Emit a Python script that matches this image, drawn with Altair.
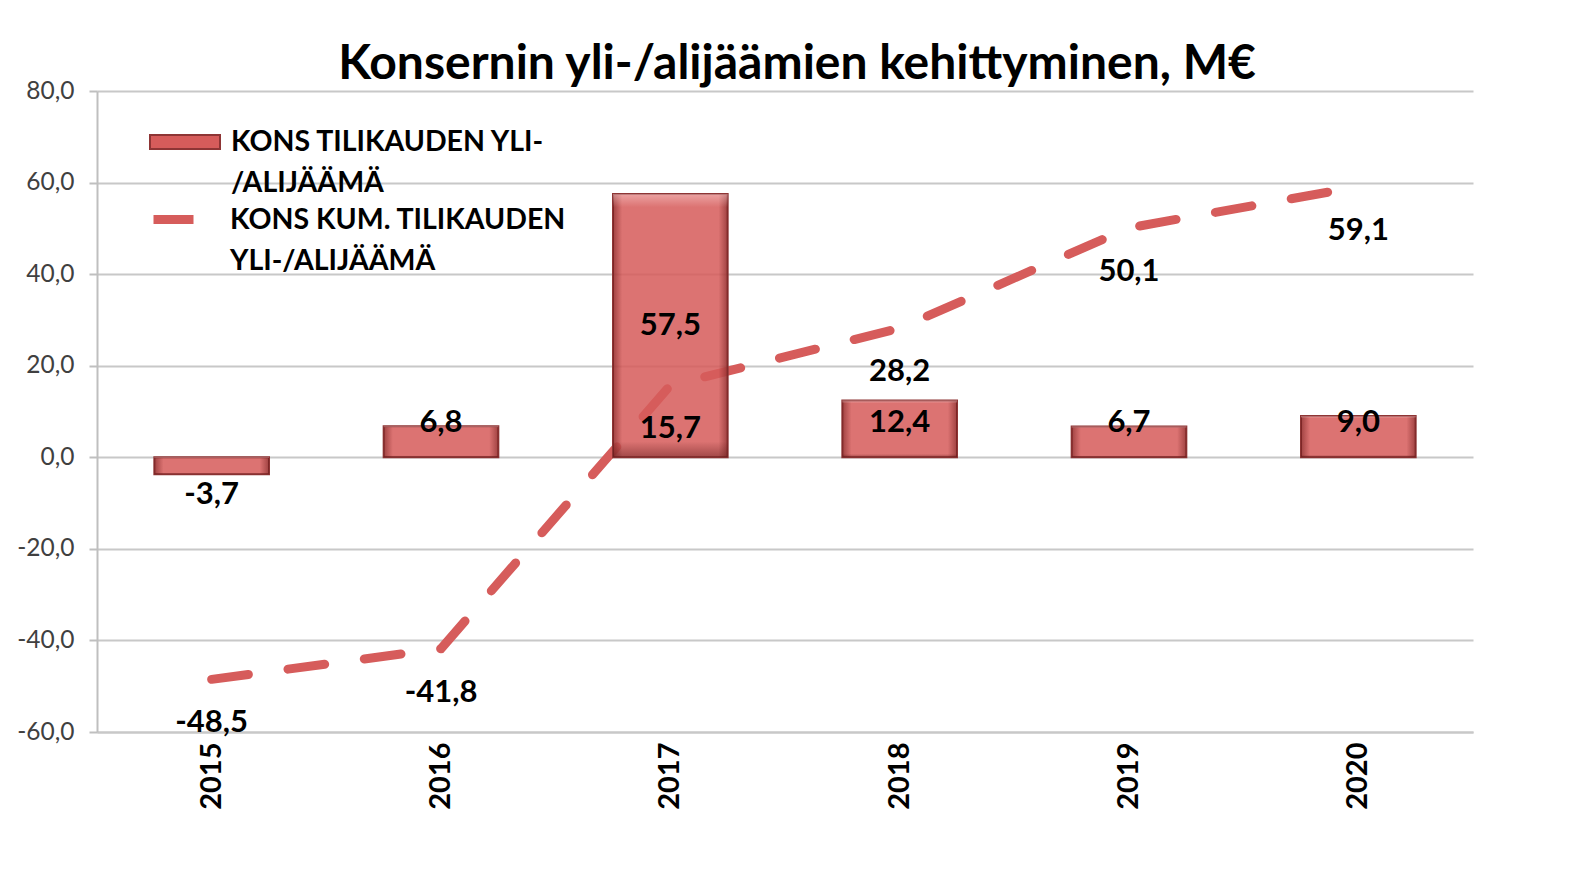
import altair as alt
import pandas as pd

years = ["2015", "2016", "2017", "2018", "2019", "2020"]
annual = [-3.7, 6.8, 57.5, 12.4, 6.7, 9.0]
cumulative = [-48.5, -41.8, 15.7, 28.2, 50.1, 59.1]
bar_series = "KONS TILIKAUDEN YLI-/ALIJÄÄMÄ"
line_series = "KONS KUM. TILIKAUDEN YLI-/ALIJÄÄMÄ"
bar_legend_lines = ["KONS TILIKAUDEN YLI-", "/ALIJÄÄMÄ"]
line_legend_lines = ["KONS KUM. TILIKAUDEN", "YLI-/ALIJÄÄMÄ"]
y_ticks = [-60, -40, -20, 0, 20, 40, 60, 80]
title_text = "Konsernin yli-/alijäämien kehittyminen, M€"

RED = "#d65c5b"
DARK = "#8e3535"
FONT = "Lato"

df = pd.DataFrame({
    "year": years,
    "annual": annual,
    "cumulative": cumulative,
    "bar_s": [bar_series] * len(years),
    "line_s": [line_series] * len(years),
})

fmt = "replace(replace(format({}, '.1f'), '.', ','), '\u2212', '-')"

x_enc = alt.X("year:N", title=None, sort=years,
              scale=alt.Scale(paddingInner=0.5, paddingOuter=0.25),
              axis=alt.Axis(labelAngle=270, labelFontSize=29, labelFontWeight="bold",
                            labelColor="#000000", labelFont=FONT, ticks=False,
                            domainColor="#c8c8c8", domainWidth=2, labelPadding=10))
y_scale = alt.Scale(domain=[-60, 80], nice=False)

base = alt.Chart(df)

def js_list(lst):
    return "[" + ", ".join("'" + s + "'" for s in lst) + "]"

line = base.mark_line(strokeWidth=9, strokeDash=[37, 40], strokeCap="round").encode(
    x=alt.X("year:N", sort=years),
    y=alt.Y("cumulative:Q", scale=y_scale),
    stroke=alt.Stroke("line_s:N", scale=alt.Scale(domain=[line_series], range=[RED]),
                      legend=alt.Legend(title=None, orient="none", legendX=52, legendY=104,
                                        symbolType="M-1,0H1", symbolSize=1600,
                                        symbolStrokeWidth=9, symbolDash=[100, 0],
                                        labelExpr=js_list(line_legend_lines),
                                        labelFontSize=28.5, labelFontWeight="bold",
                                        labelFont=FONT, labelColor="#000000",
                                        labelLimit=700, labelOffset=32)),
)

bars = base.mark_bar(stroke=DARK, strokeWidth=2, fillOpacity=0.86).encode(
    x=x_enc,
    y=alt.Y("annual:Q", scale=y_scale, title=None,
            axis=alt.Axis(values=y_ticks, labelExpr=fmt.format("datum.value"),
                          labelFontSize=24.5, labelColor="#404040", labelFont=FONT,
                          grid=True, gridColor="#c8c8c8", gridWidth=2,
                          domainColor="#bfbfbf", domainWidth=2,
                          tickColor="#bfbfbf", tickWidth=2, tickSize=8, labelPadding=15)),
    fill=alt.Fill("bar_s:N", scale=alt.Scale(domain=[bar_series], range=[RED]),
                  legend=alt.Legend(title=None, orient="none", legendX=52, legendY=15,
                                    symbolType="M-1,-0.2H1V0.2H-1Z", symbolSize=4900,
                                    symbolStrokeColor=DARK, symbolStrokeWidth=2,
                                    labelExpr=js_list(bar_legend_lines),
                                    labelFontSize=28.5, labelFontWeight="bold",
                                    labelFont=FONT, labelColor="#000000",
                                    labelLimit=700, labelOffset=10)),
)

side_shade = base.mark_bar(
    fill=alt.Gradient(gradient="linear", x1=0, x2=1, y1=0, y2=0, stops=[
        alt.GradientStop(offset=0, color="rgba(110,25,25,0.55)"),
        alt.GradientStop(offset=0.08, color="rgba(110,25,25,0)"),
        alt.GradientStop(offset=0.92, color="rgba(110,25,25,0)"),
        alt.GradientStop(offset=1, color="rgba(110,25,25,0.55)"),
    ])
).encode(
    x=alt.X("year:N", sort=years),
    y=alt.Y("annual:Q", scale=y_scale),
)

top_shade = base.mark_bar(
    fill=alt.Gradient(gradient="linear", x1=0, x2=0, y1=0, y2=1, stops=[
        alt.GradientStop(offset=0, color="rgba(255,220,220,0.45)"),
        alt.GradientStop(offset=0.05, color="rgba(255,220,220,0)"),
        alt.GradientStop(offset=0.94, color="rgba(90,20,20,0)"),
        alt.GradientStop(offset=1, color="rgba(90,20,20,0.45)"),
    ])
).encode(
    x=alt.X("year:N", sort=years),
    y=alt.Y("annual:Q", scale=y_scale),
)

bar_text = base.transform_calculate(
    lab=fmt.format("datum.annual"),
    ly="datum.annual < 0 ? datum.annual - 4.5 : max(datum.annual / 2, 7.5)",
).mark_text(fontSize=31, fontWeight="bold", font=FONT, color="#000000",
            baseline="middle").encode(
    x=alt.X("year:N", sort=years),
    y=alt.Y("ly:Q", scale=y_scale),
    text="lab:N",
)

line_text = base.transform_calculate(
    lab=fmt.format("datum.cumulative"),
).mark_text(fontSize=31, fontWeight="bold", font=FONT, color="#000000",
            baseline="middle", dy=44).encode(
    x=alt.X("year:N", sort=years),
    y=alt.Y("cumulative:Q", scale=y_scale),
    text="lab:N",
)

chart = alt.layer(line, bars, side_shade, top_shade, bar_text, line_text).properties(
    width=1376, height=641,
    title=alt.Title(title_text, fontSize=48, font=FONT, fontWeight="bold",
                    color="#000000", anchor="middle", dx=12, dy=14, offset=3),
    autosize=alt.AutoSizeParams(type="none"),
    padding={"left": 89, "top": 83, "right": 88, "bottom": 140},
).configure(style={"guide-label": {"lineHeight": 41}}).configure_view(stroke=None)

chart.save("out.html", embed_options={"renderer": "svg", "actions": False})
